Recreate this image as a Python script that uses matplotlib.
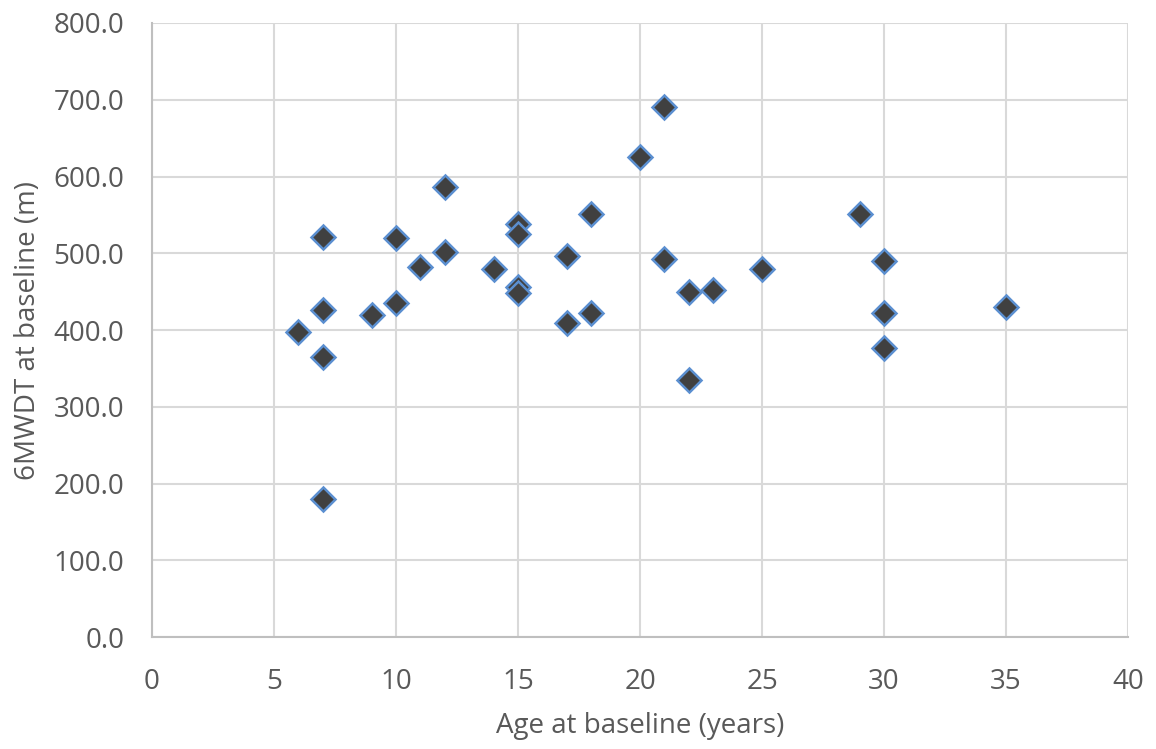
import numpy as np
from matplotlib import pyplot as plt
from matplotlib.ticker import FormatStrFormatter

# Edad al inicio vs distancia 6MWDT
edad = [6, 7, 7, 7, 7, 9, 10, 10, 11, 12, 12, 14, 15, 15, 15, 15,
        17, 17, 18, 18, 20, 21, 21, 22, 22, 23, 25, 29, 30, 30, 30, 35]
distancia = [398, 521, 426, 365, 180, 420, 520, 435, 482, 586, 501, 480, 538, 525, 456, 448,
             496, 409, 551, 422, 626, 690, 492, 450, 335, 452, 480, 551, 490, 422, 376, 430]

plt.rcParams['font.family'] = ['Open Sans', 'DejaVu Sans']

fig = plt.figure(figsize=(11.56, 7.49), dpi=100)
ax = fig.add_axes([0.1315, 0.1495, 0.8443, 0.8198])

ax.plot(edad, distancia, linestyle='none', marker='D', markersize=12.5,
        markerfacecolor='#404040', markeredgecolor='#5b8fd0', markeredgewidth=1.8,
        zorder=3)

ax.set_xlim(0, 40)
ax.set_ylim(0, 800)
ax.set_xticks(np.arange(0, 41, 5))
ax.set_yticks(np.arange(0, 801, 100))
ax.yaxis.set_major_formatter(FormatStrFormatter('%.1f'))
ax.grid(True, color='#d9d9d9', linewidth=1.5)
ax.set_axisbelow(True)
for lado in ['top', 'right']:
    ax.spines[lado].set_visible(False)
for lado in ['left', 'bottom']:
    ax.spines[lado].set_color('#bfbfbf')
    ax.spines[lado].set_linewidth(1.5)
ax.tick_params(length=0, labelsize=20, labelcolor='#595959')
ax.tick_params(axis='x', pad=22)
ax.tick_params(axis='y', pad=20)

ax.set_xlabel('Age at baseline (years)', fontsize=20, color='#595959', labelpad=12)
ax.set_ylabel('6MWDT at baseline (m)', fontsize=20, color='#595959', labelpad=8)

fig.savefig('out.png')
